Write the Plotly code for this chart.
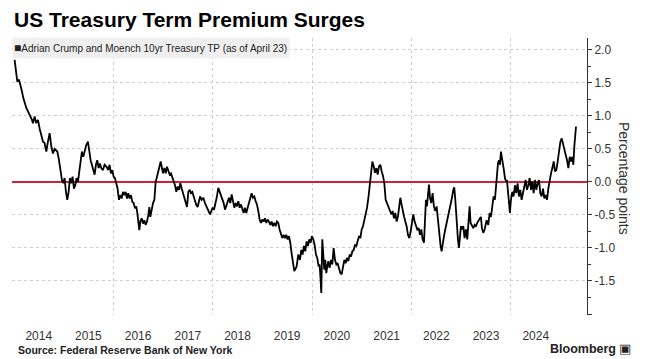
import pandas as pd
import plotly.graph_objects as go

# ---- Data: ACM 10yr term premium (decimal year, percentage points)
t_2014_15 = [2014.015, 2014.069, 2014.103, 2014.136, 2014.163, 2014.190, 2014.217, 2014.250, 2014.284, 2014.317,
             2014.364, 2014.384, 2014.418, 2014.451, 2014.485, 2014.518, 2014.552, 2014.586, 2014.619, 2014.653,
             2014.686, 2014.720, 2014.753, 2014.787, 2014.820, 2014.874, 2014.901, 2014.941, 2014.968, 2014.995,
             2015.021, 2015.048, 2015.075, 2015.102, 2015.129, 2015.156, 2015.182, 2015.209, 2015.236, 2015.263,
             2015.290, 2015.317, 2015.343, 2015.370, 2015.397, 2015.424, 2015.457, 2015.491, 2015.518, 2015.545,
             2015.571, 2015.598, 2015.625, 2015.652, 2015.679, 2015.706, 2015.732, 2015.759, 2015.793, 2015.826,
             2015.866]
v_2014_15 = [1.85, 1.52, 1.55, 1.47, 1.37, 1.27, 1.19, 1.12, 1.07, 1.02,
             0.94, 0.89, 0.99, 0.89, 0.94, 0.81, 0.71, 0.61, 0.59, 0.46,
             0.61, 0.74, 0.54, 0.43, 0.50, 0.46, 0.36, 0.16, 0.03, -0.02,
             0.06, -0.15, -0.27, -0.15, 0.06, -0.02, 0.08, -0.10, -0.05, 0.06,
             0.00, 0.16, 0.31, 0.46, 0.38, 0.48, 0.56, 0.61, 0.46, 0.33,
             0.26, 0.18, 0.11, 0.26, 0.33, 0.21, 0.28, 0.21, 0.18, 0.26,
             0.23]

t_2016_17 = [2015.900, 2015.927, 2015.954, 2015.981, 2016.007, 2016.034, 2016.061, 2016.088, 2016.115, 2016.142,
             2016.168, 2016.195, 2016.222, 2016.249, 2016.276, 2016.302, 2016.329, 2016.356, 2016.383, 2016.410,
             2016.437, 2016.463, 2016.484, 2016.504, 2016.524, 2016.544, 2016.571, 2016.598, 2016.624, 2016.651,
             2016.678, 2016.705, 2016.725, 2016.745, 2016.772, 2016.799, 2016.826, 2016.852, 2016.879, 2016.906,
             2016.933, 2016.953, 2016.973, 2017.000, 2017.027, 2017.054, 2017.080, 2017.107, 2017.134, 2017.161,
             2017.188, 2017.215, 2017.241, 2017.268, 2017.295, 2017.322, 2017.349, 2017.376, 2017.402, 2017.429,
             2017.456, 2017.483, 2017.510, 2017.537, 2017.563, 2017.590, 2017.617, 2017.644, 2017.671, 2017.698,
             2017.724]
v_2016_17 = [0.18, 0.26, 0.13, 0.18, 0.08, 0.06, -0.02, -0.10, -0.27, -0.20,
             -0.25, -0.15, -0.20, -0.15, -0.25, -0.17, -0.25, -0.20, -0.30, -0.32,
             -0.40, -0.37, -0.47, -0.58, -0.73, -0.60, -0.55, -0.63, -0.58, -0.65,
             -0.60, -0.50, -0.38, -0.53, -0.42, -0.32, -0.27, 0.00, 0.08, 0.18,
             0.26, 0.31, 0.23, 0.13, 0.21, 0.13, 0.23, 0.16, 0.11, 0.13,
             0.06, 0.03, -0.05, -0.15, -0.07, -0.12, -0.02, -0.10, -0.17, -0.22,
             -0.30, -0.38, -0.15, -0.12, -0.17, -0.15, -0.22, -0.30, -0.35, -0.38,
             -0.30]

t_2018_19 = [2017.745, 2017.778, 2017.812, 2017.845, 2017.879, 2017.912, 2017.946, 2017.973, 2017.999, 2018.026,
             2018.053, 2018.080, 2018.113, 2018.140, 2018.167, 2018.194, 2018.221, 2018.248, 2018.274, 2018.301,
             2018.328, 2018.355, 2018.382, 2018.409, 2018.435, 2018.462, 2018.489, 2018.516, 2018.543, 2018.569,
             2018.596, 2018.623, 2018.650, 2018.677, 2018.704, 2018.730, 2018.757, 2018.784, 2018.811, 2018.838,
             2018.865, 2018.891, 2018.918, 2018.945, 2018.972, 2018.999, 2019.026, 2019.052, 2019.079, 2019.106,
             2019.133, 2019.160, 2019.187, 2019.213, 2019.240, 2019.267, 2019.294, 2019.321, 2019.347, 2019.374,
             2019.401, 2019.428, 2019.455, 2019.482, 2019.508, 2019.535, 2019.562, 2019.589, 2019.616, 2019.643]
v_2018_19 = [-0.22, -0.27, -0.24, -0.32, -0.37, -0.42, -0.49, -0.44, -0.39, -0.42,
             -0.34, -0.24, -0.09, -0.14, -0.19, -0.27, -0.32, -0.42, -0.37, -0.29,
             -0.24, -0.32, -0.19, -0.29, -0.39, -0.32, -0.37, -0.29, -0.39, -0.34,
             -0.42, -0.47, -0.39, -0.47, -0.39, -0.32, -0.24, -0.17, -0.24, -0.22,
             -0.29, -0.34, -0.44, -0.57, -0.62, -0.57, -0.60, -0.55, -0.62, -0.57,
             -0.60, -0.65, -0.60, -0.67, -0.62, -0.67, -0.60, -0.62, -0.72, -0.80,
             -0.85, -0.80, -0.85, -0.80, -0.87, -0.82, -0.92, -1.08, -1.23, -1.35]

t_2020_21 = [2019.690, 2019.723, 2019.757, 2019.783, 2019.810, 2019.837, 2019.864, 2019.891, 2019.918, 2019.944,
             2019.971, 2019.998, 2020.025, 2020.052, 2020.079, 2020.105, 2020.132, 2020.152, 2020.172, 2020.186,
             2020.206, 2020.226, 2020.246, 2020.266, 2020.286, 2020.307, 2020.327, 2020.353, 2020.380, 2020.407,
             2020.434, 2020.461, 2020.488, 2020.514, 2020.541, 2020.568, 2020.595, 2020.622, 2020.649, 2020.675,
             2020.702, 2020.729, 2020.756, 2020.783, 2020.810, 2020.836, 2020.863, 2020.890, 2020.917, 2020.944,
             2020.971, 2020.997, 2021.024, 2021.051, 2021.078, 2021.105, 2021.132, 2021.158, 2021.185, 2021.212,
             2021.239, 2021.266, 2021.293, 2021.319, 2021.346, 2021.373, 2021.400, 2021.427, 2021.453, 2021.480,
             2021.507, 2021.534, 2021.561]
v_2020_21 = [-1.28, -1.10, -1.18, -1.03, -1.10, -0.97, -1.05, -0.90, -0.97, -0.87,
             -0.92, -0.82, -0.87, -0.95, -1.10, -1.15, -1.28, -1.25, -1.48, -1.68,
             -0.87, -1.23, -1.33, -1.18, -1.38, -1.28, -1.20, -1.30, -1.18, -1.25,
             -1.00, -1.18, -1.25, -1.23, -1.30, -1.38, -1.40, -1.30, -1.18, -1.23,
             -1.15, -1.20, -1.10, -1.13, -1.05, -1.03, -0.95, -0.97, -0.87, -0.82,
             -0.85, -0.72, -0.67, -0.57, -0.52, -0.39, -0.24, -0.02, 0.14, 0.31,
             0.24, 0.14, 0.21, 0.11, 0.24, 0.26, 0.16, 0.09, -0.02, -0.27,
             -0.32, -0.37, -0.42]

t_2022_23 = [2021.594, 2021.621, 2021.647, 2021.674, 2021.701, 2021.728, 2021.755, 2021.775, 2021.795, 2021.822,
             2021.849, 2021.876, 2021.902, 2021.929, 2021.956, 2021.983, 2022.010, 2022.036, 2022.063, 2022.090,
             2022.117, 2022.144, 2022.171, 2022.197, 2022.224, 2022.251, 2022.271, 2022.291, 2022.311, 2022.332,
             2022.352, 2022.372, 2022.399, 2022.425, 2022.452, 2022.479, 2022.506, 2022.533, 2022.560, 2022.586,
             2022.607, 2022.627, 2022.654, 2022.680, 2022.707, 2022.734, 2022.761, 2022.788, 2022.815, 2022.841,
             2022.861, 2022.882, 2022.908, 2022.935, 2022.955, 2022.975, 2022.996, 2023.016, 2023.043, 2023.069,
             2023.096, 2023.123, 2023.150, 2023.170, 2023.190, 2023.217, 2023.244, 2023.271, 2023.297, 2023.324,
             2023.351, 2023.378, 2023.398, 2023.418, 2023.445, 2023.472]
v_2022_23 = [-0.49, -0.44, -0.55, -0.47, -0.60, -0.52, -0.34, -0.24, -0.32, -0.44,
             -0.52, -0.60, -0.67, -0.80, -0.85, -0.75, -0.57, -0.49, -0.60, -0.65,
             -0.72, -0.70, -0.80, -0.72, -0.87, -0.92, -0.57, -0.27, -0.37, -0.17,
             -0.04, -0.24, -0.32, -0.17, -0.37, -0.44, -0.37, -0.57, -0.82, -0.97,
             -1.05, -0.92, -0.82, -0.72, -0.62, -0.57, -0.44, -0.34, -0.24, -0.12,
             -0.08, -0.27, -0.62, -0.87, -1.00, -0.82, -0.67, -0.72, -0.67, -0.85,
             -0.72, -0.87, -0.49, -0.37, -0.62, -0.67, -0.70, -0.65, -0.67, -0.62,
             -0.57, -0.55, -0.53, -0.70, -0.77, -0.72]

t_2024_25 = [2023.513, 2023.546, 2023.573, 2023.600, 2023.627, 2023.653, 2023.680, 2023.700, 2023.720, 2023.741,
             2023.761, 2023.781, 2023.801, 2023.821, 2023.841, 2023.861, 2023.881, 2023.902, 2023.922, 2023.942,
             2023.962, 2023.982, 2024.002, 2024.029, 2024.056, 2024.083, 2024.109, 2024.136, 2024.163, 2024.190,
             2024.217, 2024.244, 2024.270, 2024.297, 2024.324, 2024.351, 2024.378, 2024.405, 2024.431, 2024.458,
             2024.485, 2024.512, 2024.539, 2024.566, 2024.592, 2024.619, 2024.646, 2024.673, 2024.700, 2024.726,
             2024.753, 2024.780, 2024.807, 2024.834, 2024.861, 2024.887, 2024.914, 2024.941, 2024.968, 2024.995,
             2025.022, 2025.048, 2025.075, 2025.102, 2025.129, 2025.156, 2025.183, 2025.209, 2025.236, 2025.256,
             2025.276, 2025.297, 2025.310]
v_2024_25 = [-0.58, -0.65, -0.47, -0.53, -0.37, -0.22, -0.27, -0.07, 0.13, 0.28,
             0.33, 0.26, 0.46, 0.38, 0.26, 0.18, 0.06, 0.01, 0.03, -0.15,
             -0.30, -0.47, -0.27, -0.15, -0.22, -0.05, -0.17, -0.02, -0.22, -0.12,
             -0.27, -0.17, -0.10, 0.03, -0.12, -0.05, 0.06, -0.12, 0.01, -0.17,
             0.03, -0.12, -0.02, 0.03, -0.17, -0.22, -0.10, -0.25, -0.20, -0.27,
             -0.10, 0.03, 0.13, 0.21, 0.31, 0.16, 0.18, 0.31, 0.48, 0.61,
             0.66, 0.56, 0.51, 0.41, 0.33, 0.21, 0.38, 0.31, 0.38, 0.26,
             0.54, 0.74, 0.84]

year_labels = list(range(2014, 2025))
grid_years = [2016, 2018, 2020, 2022, 2024]
y_ticks = [2.0, 1.5, 1.0, 0.5, 0.0, -0.5, -1.0, -1.5, -2.0]
y_ticktext = ["2.0", "1.5", "1.0", "0.5", "0.0", "-0.5", "-1.0", "-1.5", ""]

segments = [(t_2014_15, v_2014_15), (t_2016_17, v_2016_17), (t_2018_19, v_2018_19),
            (t_2020_21, v_2020_21), (t_2022_23, v_2022_23), (t_2024_25, v_2024_25)]
t_all, v_all = [], []
for ts, vs in segments:
    assert len(ts) == len(vs), (len(ts), len(vs))
    t_all += ts
    v_all += vs


def to_date(y):
    yr = int(y)
    start = pd.Timestamp(yr, 1, 1)
    end = pd.Timestamp(yr + 1, 1, 1)
    return start + (end - start) * (y - yr)


dates = [to_date(y) for y in t_all]

fig = go.Figure()
fig.add_trace(go.Scatter(x=dates, y=v_all, mode="lines",
                         line=dict(color="#000000", width=1.8),
                         showlegend=False, hoverinfo="skip"))

grid_col = "#cfcfcf"
font_main = "Liberation Sans, Arial"
fig.update_layout(
    width=646, height=359,
    margin=dict(l=12, r=59, t=38, b=44),
    paper_bgcolor="white", plot_bgcolor="white",
    title=dict(text="<b>US Treasury Term Premium Surges</b>",
               font=dict(family=font_main, size=21, color="#000000"),
               x=14 / 646, xanchor="left", xref="container",
               y=1 - 20 / 359, yanchor="middle", yref="container"),
    xaxis=dict(type="date",
               range=[to_date(2013.962), to_date(2025.531)],
               tickmode="array",
               tickvals=[to_date(y + 0.5) for y in year_labels],
               ticktext=[str(y) for y in year_labels],
               ticks="", showgrid=False, showline=False, zeroline=False,
               ticklabelstandoff=12,
               tickfont=dict(family=font_main, size=12, color="#333333"),
               minor=dict(tickmode="array", tickvals=[to_date(y) for y in grid_years],
                          showgrid=True, gridcolor=grid_col, griddash="dot", gridwidth=1,
                          ticks="")),
    yaxis=dict(side="right", range=[-2.015, 2.18],
               tickmode="array", tickvals=y_ticks, ticktext=y_ticktext,
               ticks="outside", ticklen=4, tickcolor="#333333", tickwidth=1,
               showline=True, linecolor="#333333", linewidth=1,
               showgrid=True, gridcolor=grid_col, griddash="dot", gridwidth=1,
               zeroline=True, zerolinecolor="#d0213a", zerolinewidth=1.5,
               tickfont=dict(family=font_main, size=12, color="#333333"),
               minor=dict(dtick=0.25, tick0=0, ticks="outside", ticklen=3,
                          tickcolor="#333333", showgrid=False)),
    annotations=[
        dict(text="<span style='font-size:12px'>\u25a0</span>Adrian Crump and Moench 10yr Treasury TP (as of April 23)",
             xref="paper", yref="paper", x=0, y=1.005, xanchor="left", yanchor="top",
             showarrow=False, align="left", width=274, height=18,
             bgcolor="#efefef", borderpad=1,
             font=dict(family=font_main, size=10, color="#222222")),
        dict(text="Percentage points", textangle=90,
             xref="paper", yref="paper", x=(624 - 12) / 575, y=0.495,
             xanchor="center", yanchor="middle", showarrow=False,
             font=dict(family=font_main, size=14, color="#333333")),
        dict(text="<b>Source: Federal Reserve Bank of New York</b>",
             xref="paper", yref="paper", x=(16 - 12) / 575, y=-(350 - 315) / 277,
             xanchor="left", yanchor="middle", showarrow=False,
             font=dict(family=font_main, size=10.5, color="#222222")),
        dict(text="<b>Bloomberg</b> \u25a3",
             xref="paper", yref="paper", x=(633 - 12) / 575, y=-(349 - 315) / 277,
             xanchor="right", yanchor="middle", showarrow=False,
             font=dict(family=font_main, size=12.5, color="#222222")),
    ],
)

fig.write_html("out.html", config={"displayModeBar": False},
               post_script="document.body.style.margin='0px';")
